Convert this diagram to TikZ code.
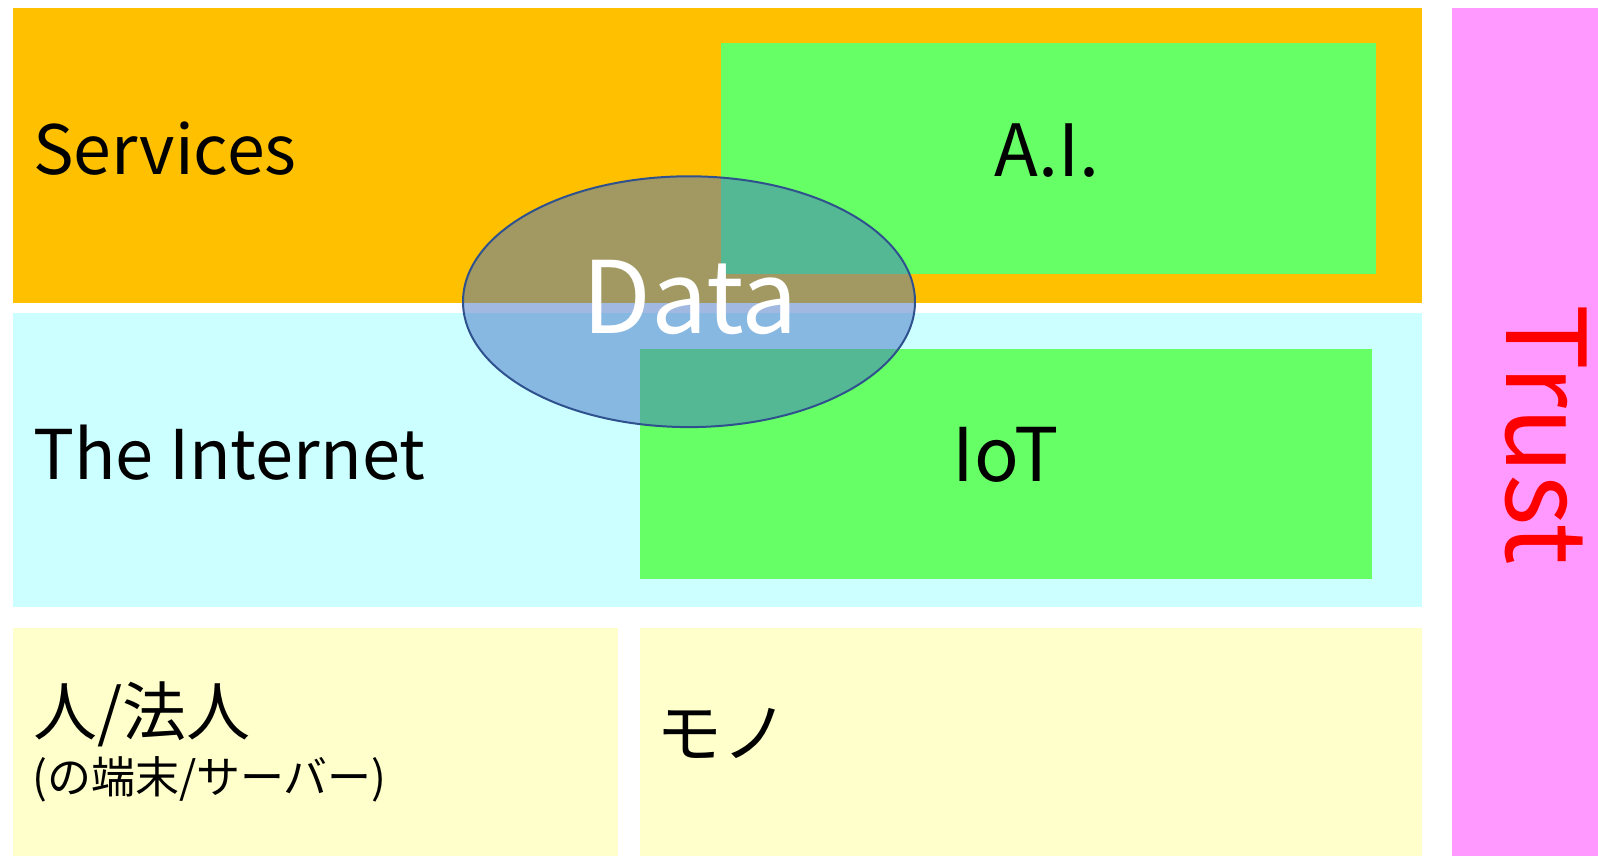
\documentclass[tikz,border=0pt]{standalone}
\usepackage{fontspec}
\setmainfont{Noto Sans CJK JP}
\definecolor{svcorange}{HTML}{FFC000}
\definecolor{netcyan}{HTML}{CCFFFF}
\definecolor{boxgreen}{HTML}{66FF66}
\definecolor{thingyellow}{HTML}{FFFFCC}
\definecolor{trustpink}{HTML}{FF99FF}
\definecolor{datablue}{HTML}{4472C4}
\definecolor{dataedge}{HTML}{2F528F}
\tikzset{
  label/.style={inner sep=0pt, anchor=base west, text=black},
  centerlabel/.style={inner sep=0pt, anchor=base, text=black},
}
\begin{document}
\begin{tikzpicture}[x=1pt,y=-1pt]
\useasboundingbox (0,0) rectangle (1598,856);

% layer bands
\fill[svcorange]   (13.2,8.2)   rectangle (1421.6,302.7);
\fill[netcyan]     (13.2,313.0) rectangle (1421.6,607.4);
\fill[thingyellow] (13.2,627.8) rectangle (617.6,856);
\fill[thingyellow] (640.0,627.8) rectangle (1421.6,856);
\fill[trustpink]   (1452.0,8.2) rectangle (1598,856);

% technologies inside the bands
\fill[boxgreen] (720.5,42.8)  rectangle (1375.8,274.1);
\fill[boxgreen] (640.0,348.5) rectangle (1371.7,578.8);

% labels
\node[label, font=\fontsize{68}{80}\selectfont] (services) at (33,175) {Services};
\node[label, font=\fontsize{68.5}{80}\selectfont] (internet) at (33,479) {The Internet};
\node[centerlabel, font=\fontsize{72}{84}\selectfont] (ai) at (1047,176) {A.I.};
\node[centerlabel, font=\fontsize{74}{84}\selectfont] (iot) at (1006,481) {IoT};
\node[label, font=\fontsize{64}{76}\selectfont] (people) at (33,735) {人/法人};
\node[label, font=\fontsize{44}{52}\selectfont] (devices) at (32,793) {(の端末/サーバー)};
\node[label, font=\fontsize{66}{78}\selectfont] (things) at (656,757) {モノ};
\node[inner sep=0pt, anchor=base, text=red, rotate=-90,
      text height=80pt, text depth=0pt,
      font=\fontsize{110}{130}\selectfont] (trust) at (1506,435) {Trust};

% data spans services and the internet
\fill[datablue, fill opacity=0.5] (689,301.7) ellipse [x radius=226, y radius=125.4];
\draw[dataedge, line width=2pt] (689,301.7) ellipse [x radius=226, y radius=125.4];
\node[centerlabel, text=white, font=\fontsize{100}{120}\selectfont] (data) at (690,333) {Data};
\end{tikzpicture}
\end{document}
